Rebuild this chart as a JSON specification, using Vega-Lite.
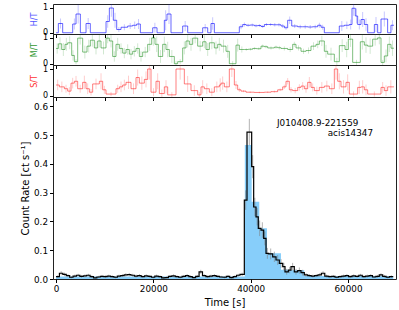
{
"$schema": "https://vega.github.io/schema/vega-lite/v6.json",
"padding": {"left": 20, "top": 3, "right": 4, "bottom": 4},
"spacing": 0,
"bounds": "flush",
"config": {
 "font": "DejaVu Sans",
 "view": {"stroke": "#222", "strokeWidth": 1},
 "axis": {"grid": false, "domain": false, "tickColor": "#000", "tickSize": 3.5, "labelColor": "#000", "titleColor": "#000", "titleFontWeight": "normal", "labelFontSize": 8.8, "titleFontSize": 10, "labelFlush": false, "labelOverlap": false}
},
"datasets": {
"ht": [
{"t0":0,"tc":240,"v":0,"e":0},{"t0":480,"tc":925,"v":0.37,"e":0.2},{"t0":1370,"tc":2400,"v":0,"e":0},{"t0":3430,"tc":3770,"v":0.35,"e":0.22},{"t0":4110,"tc":4555,"v":0.75,"e":0.38},{"t0":5000,"tc":5585,"v":0,"e":0},{"t0":6170,"tc":6610,"v":0.37,"e":0.22},{"t0":7050,"tc":8665,"v":0,"e":0},{"t0":10280,"tc":10620,"v":0.45,"e":0.25},{"t0":10960,"tc":11370,"v":0.99,"e":0.35},{"t0":11780,"tc":12125,"v":0.5,"e":0.3},{"t0":12470,"tc":12915,"v":0.13,"e":0.1},{"t0":13360,"tc":14045,"v":0.22,"e":0.12},{"t0":14730,"tc":15245,"v":0.27,"e":0.12},{"t0":15760,"tc":16170,"v":0.3,"e":0.15},{"t0":16580,"tc":16955,"v":0.35,"e":0.2},{"t0":17330,"tc":18600,"v":0,"e":0},{"t0":19870,"tc":20315,"v":0.2,"e":0.2},{"t0":20760,"tc":21510,"v":0,"e":0},{"t0":22260,"tc":22535,"v":0.5,"e":0.4},{"t0":22810,"tc":23220,"v":0.75,"e":0.4},{"t0":23630,"tc":24830,"v":0,"e":0},{"t0":26030,"tc":26545,"v":0.27,"e":0.2},{"t0":27060,"tc":28600,"v":0,"e":0},{"t0":30140,"tc":30655,"v":0.2,"e":0.15},{"t0":31170,"tc":31510,"v":0,"e":0},{"t0":31850,"tc":32195,"v":0.37,"e":0.25},{"t0":32540,"tc":35105,"v":0,"e":0},{"t0":37670,"tc":38015,"v":0.24,"e":0.1},{"t0":38360,"tc":38705,"v":0.33,"e":0.08},{"t0":39050,"tc":39475,"v":0.3,"e":0.06},{"t0":39900,"tc":40330,"v":0.31,"e":0.06},{"t0":40760,"tc":41105,"v":0.28,"e":0.06},{"t0":41450,"tc":41790,"v":0.29,"e":0.06},{"t0":42130,"tc":42475,"v":0.25,"e":0.06},{"t0":42820,"tc":43250,"v":0.33,"e":0.06},{"t0":43680,"tc":44105,"v":0.33,"e":0.06},{"t0":44530,"tc":44960,"v":0.32,"e":0.07},{"t0":45390,"tc":45815,"v":0.32,"e":0.07},{"t0":46240,"tc":46585,"v":0.27,"e":0.08},{"t0":46930,"tc":47270,"v":0.2,"e":0.08},{"t0":47610,"tc":48025,"v":0.5,"e":0.15},{"t0":48440,"tc":49055,"v":0.27,"e":0.08},{"t0":49670,"tc":50180,"v":0.24,"e":0.08},{"t0":50690,"tc":51205,"v":0.24,"e":0.08},{"t0":51720,"tc":52235,"v":0.23,"e":0.08},{"t0":52750,"tc":53265,"v":0.24,"e":0.08},{"t0":53780,"tc":54120,"v":0.3,"e":0.1},{"t0":54460,"tc":54800,"v":0.22,"e":0.1},{"t0":55140,"tc":56680,"v":0,"e":0},{"t0":58220,"tc":58735,"v":0.27,"e":0.2},{"t0":59250,"tc":59765,"v":0.3,"e":0.15},{"t0":60280,"tc":60555,"v":0.33,"e":0.2},{"t0":60830,"tc":61170,"v":0.98,"e":0.3},{"t0":61510,"tc":61750,"v":0.67,"e":0.3},{"t0":61990,"tc":62335,"v":0.33,"e":0.2},{"t0":62680,"tc":63020,"v":0.53,"e":0.3},{"t0":63360,"tc":63705,"v":0.33,"e":0.25},{"t0":64050,"tc":64735,"v":0,"e":0},{"t0":65420,"tc":65760,"v":0.33,"e":0.3},{"t0":66100,"tc":66445,"v":0,"e":0},{"t0":66790,"tc":67470,"v":0.55,"e":0.3},{"t0":68150,"tc":68490,"v":0,"e":0},{"t0":68830,"tc":69140,"v":0.3,"e":0.2},{"t0":69450,"v":0.3}
],
"mt": [
{"t0":0,"tc":240,"v":0.59,"e":0.2},{"t0":479,"tc":822,"v":0.77,"e":0.25},{"t0":1164,"tc":1507,"v":0.55,"e":0.25},{"t0":1849,"tc":2123,"v":0.75,"e":0.25},{"t0":2397,"tc":2808,"v":0.81,"e":0.25},{"t0":3219,"tc":3493,"v":0.32,"e":0.2},{"t0":3767,"tc":4110,"v":0.08,"e":0.1},{"t0":4452,"tc":4966,"v":0.99,"e":0.25},{"t0":5480,"tc":5925,"v":0.45,"e":0.25},{"t0":6370,"tc":6713,"v":0.68,"e":0.25},{"t0":7055,"tc":7466,"v":0.91,"e":0.25},{"t0":7877,"tc":8220,"v":0.61,"e":0.25},{"t0":8562,"tc":8905,"v":0.88,"e":0.25},{"t0":9247,"tc":9761,"v":0.61,"e":0.25},{"t0":10275,"tc":10618,"v":0.99,"e":0.2},{"t0":10960,"tc":11303,"v":0.88,"e":0.25},{"t0":11645,"tc":11988,"v":0.28,"e":0.2},{"t0":12330,"tc":12673,"v":0.75,"e":0.25},{"t0":13015,"tc":13358,"v":0.59,"e":0.2},{"t0":13700,"tc":14043,"v":0.41,"e":0.2},{"t0":14385,"tc":14728,"v":0.55,"e":0.2},{"t0":15070,"tc":15413,"v":0.37,"e":0.2},{"t0":15755,"tc":16098,"v":0.48,"e":0.2},{"t0":16440,"tc":16783,"v":0.59,"e":0.2},{"t0":17125,"tc":17468,"v":0.28,"e":0.2},{"t0":17810,"tc":18324,"v":0.45,"e":0.2},{"t0":18837,"tc":19248,"v":0.75,"e":0.25},{"t0":19659,"tc":20002,"v":1.0,"e":0.3},{"t0":20344,"tc":20687,"v":0.75,"e":0.3},{"t0":21029,"tc":21475,"v":0.28,"e":0.25},{"t0":21920,"tc":22263,"v":0.75,"e":0.3},{"t0":22605,"tc":22948,"v":0.55,"e":0.3},{"t0":23290,"tc":23804,"v":0.28,"e":0.25},{"t0":24317,"tc":24660,"v":0,"e":0.1},{"t0":25002,"tc":25516,"v":0.08,"e":0.1},{"t0":26030,"tc":26373,"v":0.61,"e":0.25},{"t0":26715,"tc":27058,"v":0.88,"e":0.25},{"t0":27400,"tc":27743,"v":0.75,"e":0.25},{"t0":28085,"tc":28599,"v":0.99,"e":0.2},{"t0":29112,"tc":29626,"v":0.68,"e":0.2},{"t0":30140,"tc":30483,"v":0.85,"e":0.25},{"t0":30825,"tc":31168,"v":0.55,"e":0.25},{"t0":31510,"tc":32024,"v":0.81,"e":0.25},{"t0":32537,"tc":32880,"v":0.61,"e":0.25},{"t0":33222,"tc":33565,"v":0.75,"e":0.25},{"t0":33908,"tc":34422,"v":0.68,"e":0.25},{"t0":34935,"tc":35278,"v":0.48,"e":0.25},{"t0":35620,"tc":36305,"v":0,"e":0.1},{"t0":36990,"tc":37333,"v":0.72,"e":0.25},{"t0":37675,"tc":38189,"v":0.55,"e":0.12},{"t0":38703,"tc":39102,"v":0.55,"e":0.05},{"t0":39500,"tc":39958,"v":0.56,"e":0.05},{"t0":40415,"tc":40808,"v":0.59,"e":0.05},{"t0":41200,"tc":41664,"v":0.58,"e":0.05},{"t0":42128,"tc":42464,"v":0.68,"e":0.06},{"t0":42800,"tc":43149,"v":0.66,"e":0.06},{"t0":43498,"tc":44183,"v":0.61,"e":0.06},{"t0":44868,"tc":45209,"v":0.64,"e":0.06},{"t0":45550,"tc":45894,"v":0.62,"e":0.07},{"t0":46238,"tc":46923,"v":0.59,"e":0.08},{"t0":47608,"tc":48122,"v":0.55,"e":0.1},{"t0":48635,"tc":48978,"v":0.75,"e":0.1},{"t0":49320,"tc":49834,"v":0.61,"e":0.1},{"t0":50348,"tc":50862,"v":0.48,"e":0.1},{"t0":51375,"tc":51889,"v":0.51,"e":0.12},{"t0":52403,"tc":52917,"v":0.68,"e":0.15},{"t0":53430,"tc":53773,"v":0.75,"e":0.15},{"t0":54115,"tc":54629,"v":0.88,"e":0.2},{"t0":55143,"tc":55486,"v":0.48,"e":0.25},{"t0":55828,"tc":56513,"v":0.37,"e":0.25},{"t0":57198,"tc":57712,"v":0.08,"e":0.15},{"t0":58225,"tc":58808,"v":0.7,"e":0.25},{"t0":59390,"tc":59733,"v":0.55,"e":0.3},{"t0":60075,"tc":60520,"v":0.95,"e":0.3},{"t0":60965,"tc":61753,"v":0.05,"e":0.1},{"t0":62541,"tc":62952,"v":0.85,"e":0.3},{"t0":63363,"tc":63706,"v":0.72,"e":0.3},{"t0":64048,"tc":64562,"v":0.68,"e":0.3},{"t0":65075,"tc":65589,"v":0.95,"e":0.25},{"t0":66103,"tc":66446,"v":1.0,"e":0.25},{"t0":66788,"tc":67131,"v":0.05,"e":0.1},{"t0":67473,"tc":67816,"v":0.3,"e":0.25},{"t0":68158,"tc":68501,"v":0.75,"e":0.3},{"t0":68843,"tc":69147,"v":0.6,"e":0.3},{"t0":69450,"v":0.6}
],
"st": [
{"t0":0,"tc":343,"v":0.4,"e":0.2},{"t0":685,"tc":1199,"v":0.33,"e":0.2},{"t0":1712,"tc":2055,"v":0.26,"e":0.15},{"t0":2397,"tc":2740,"v":0.17,"e":0.15},{"t0":3082,"tc":3425,"v":0.47,"e":0.2},{"t0":3767,"tc":4110,"v":0.54,"e":0.2},{"t0":4452,"tc":4966,"v":0.26,"e":0.15},{"t0":5480,"tc":5823,"v":0.5,"e":0.25},{"t0":6165,"tc":6508,"v":0.26,"e":0.2},{"t0":6850,"tc":7193,"v":0.13,"e":0.12},{"t0":7535,"tc":8220,"v":0.44,"e":0.2},{"t0":8905,"tc":9248,"v":0.54,"e":0.3},{"t0":9590,"tc":9933,"v":0.22,"e":0.15},{"t0":10275,"tc":11303,"v":0.06,"e":0.08},{"t0":12330,"tc":12673,"v":0.26,"e":0.15},{"t0":13015,"tc":13358,"v":0.33,"e":0.2},{"t0":13700,"tc":14043,"v":0.4,"e":0.2},{"t0":14385,"tc":14899,"v":0.5,"e":0.25},{"t0":15412,"tc":15926,"v":0.26,"e":0.2},{"t0":16440,"tc":16783,"v":0.68,"e":0.3},{"t0":17125,"tc":17639,"v":0.47,"e":0.25},{"t0":18152,"tc":18495,"v":0.61,"e":0.3},{"t0":18837,"tc":19180,"v":1.0,"e":0.4},{"t0":19522,"tc":20036,"v":0.13,"e":0.15},{"t0":20550,"tc":20893,"v":0.54,"e":0.3},{"t0":21235,"tc":21749,"v":0.08,"e":0.15},{"t0":22262,"tc":22605,"v":0.33,"e":0.25},{"t0":22947,"tc":23804,"v":0.03,"e":0.1},{"t0":24660,"tc":25516,"v":1.0,"e":0.4},{"t0":26372,"tc":27057,"v":0.44,"e":0.3},{"t0":27742,"tc":28427,"v":0.19,"e":0.2},{"t0":29112,"tc":29455,"v":0.03,"e":0.1},{"t0":29797,"tc":30140,"v":0.33,"e":0.25},{"t0":30482,"tc":30996,"v":0.26,"e":0.2},{"t0":31510,"tc":32024,"v":0.13,"e":0.15},{"t0":32537,"tc":33051,"v":0.33,"e":0.2},{"t0":33565,"tc":33737,"v":0.4,"e":0.25},{"t0":33908,"tc":34251,"v":0.47,"e":0.25},{"t0":34593,"tc":35107,"v":0.33,"e":0.2},{"t0":35620,"tc":36134,"v":1.0,"e":0.3},{"t0":36648,"tc":36991,"v":0.4,"e":0.15},{"t0":37333,"tc":37676,"v":0.22,"e":0.08},{"t0":38018,"tc":38532,"v":0.17,"e":0.04},{"t0":39045,"tc":39902,"v":0.13,"e":0.03},{"t0":40758,"tc":41786,"v":0.12,"e":0.03},{"t0":42813,"tc":43498,"v":0.13,"e":0.03},{"t0":44183,"tc":44868,"v":0.15,"e":0.04},{"t0":45553,"tc":46067,"v":0.22,"e":0.05},{"t0":46580,"tc":46923,"v":0.33,"e":0.08},{"t0":47265,"tc":47608,"v":0.54,"e":0.12},{"t0":47950,"tc":48293,"v":0.22,"e":0.1},{"t0":48635,"tc":49149,"v":0.19,"e":0.1},{"t0":49663,"tc":50006,"v":0.31,"e":0.12},{"t0":50348,"tc":50691,"v":0.36,"e":0.15},{"t0":51033,"tc":51376,"v":0.26,"e":0.15},{"t0":51718,"tc":52061,"v":0.5,"e":0.2},{"t0":52403,"tc":52746,"v":0.31,"e":0.15},{"t0":53088,"tc":53602,"v":0.19,"e":0.15},{"t0":54115,"tc":54629,"v":0.31,"e":0.2},{"t0":55143,"tc":55657,"v":0.36,"e":0.2},{"t0":56170,"tc":56684,"v":0.26,"e":0.2},{"t0":57198,"tc":57541,"v":1.0,"e":0.4},{"t0":57883,"tc":58226,"v":0.54,"e":0.3},{"t0":58568,"tc":59082,"v":0.33,"e":0.25},{"t0":59595,"tc":59938,"v":0.5,"e":0.3},{"t0":60280,"tc":61137,"v":0.06,"e":0.1},{"t0":61993,"tc":62336,"v":0.31,"e":0.25},{"t0":62678,"tc":63021,"v":0.33,"e":0.25},{"t0":63363,"tc":63706,"v":0.22,"e":0.2},{"t0":64048,"tc":65418,"v":0.06,"e":0.1},{"t0":66788,"tc":67131,"v":0.31,"e":0.2},{"t0":67473,"tc":67816,"v":0.19,"e":0.2},{"t0":68158,"tc":68804,"v":0.33,"e":0.25},{"t0":69450,"v":0.33}
],
"lc": [
{"t0":0,"tc":350,"v":0.008,"e":0.005},{"t0":700,"tc":1050,"v":0.02,"e":0.007},{"t0":1400,"tc":1750,"v":0.016,"e":0.006},{"t0":2100,"tc":2450,"v":0.012,"e":0.005},{"t0":2800,"tc":3150,"v":0.006,"e":0.004},{"t0":3500,"tc":3850,"v":0.01,"e":0.005},{"t0":4200,"tc":4550,"v":0.013,"e":0.005},{"t0":4900,"tc":5250,"v":0.009,"e":0.005},{"t0":5600,"tc":5950,"v":0.011,"e":0.005},{"t0":6300,"tc":6650,"v":0.013,"e":0.005},{"t0":7000,"tc":7350,"v":0.008,"e":0.005},{"t0":7700,"tc":8050,"v":0.004,"e":0.004},{"t0":8400,"tc":8750,"v":0.007,"e":0.004},{"t0":9100,"tc":9450,"v":0.009,"e":0.005},{"t0":9800,"tc":10150,"v":0.008,"e":0.005},{"t0":10500,"tc":10850,"v":0.01,"e":0.005},{"t0":11200,"tc":11550,"v":0.008,"e":0.005},{"t0":11900,"tc":12250,"v":0.006,"e":0.004},{"t0":12600,"tc":12950,"v":0.01,"e":0.005},{"t0":13300,"tc":13650,"v":0.012,"e":0.005},{"t0":14000,"tc":14350,"v":0.014,"e":0.006},{"t0":14700,"tc":15050,"v":0.015,"e":0.006},{"t0":15400,"tc":15750,"v":0.013,"e":0.005},{"t0":16100,"tc":16450,"v":0.01,"e":0.005},{"t0":16800,"tc":17150,"v":0.012,"e":0.005},{"t0":17500,"tc":17850,"v":0.008,"e":0.005},{"t0":18200,"tc":18550,"v":0.011,"e":0.005},{"t0":18900,"tc":19250,"v":0.009,"e":0.005},{"t0":19600,"tc":19950,"v":0.006,"e":0.004},{"t0":20300,"tc":20650,"v":0.01,"e":0.005},{"t0":21000,"tc":21350,"v":0.008,"e":0.005},{"t0":21700,"tc":22050,"v":0.004,"e":0.004},{"t0":22400,"tc":22750,"v":0.005,"e":0.004},{"t0":23100,"tc":23450,"v":0.009,"e":0.005},{"t0":23800,"tc":24150,"v":0.011,"e":0.005},{"t0":24500,"tc":24850,"v":0.008,"e":0.005},{"t0":25200,"tc":25550,"v":0.006,"e":0.004},{"t0":25900,"tc":26250,"v":0.009,"e":0.005},{"t0":26600,"tc":26950,"v":0.012,"e":0.005},{"t0":27300,"tc":27650,"v":0.008,"e":0.005},{"t0":28000,"tc":28350,"v":0.005,"e":0.004},{"t0":28700,"tc":29050,"v":0.009,"e":0.005},{"t0":29400,"tc":29750,"v":0.025,"e":0.007},{"t0":30100,"tc":30450,"v":0.012,"e":0.005},{"t0":30800,"tc":31150,"v":0.008,"e":0.005},{"t0":31500,"tc":31850,"v":0.01,"e":0.005},{"t0":32200,"tc":32550,"v":0.012,"e":0.005},{"t0":32900,"tc":33250,"v":0.009,"e":0.005},{"t0":33600,"tc":33950,"v":0.007,"e":0.004},{"t0":34300,"tc":34650,"v":0.006,"e":0.004},{"t0":35000,"tc":35350,"v":0.009,"e":0.005},{"t0":35700,"tc":36050,"v":0.005,"e":0.004},{"t0":36400,"tc":36750,"v":0.008,"e":0.005},{"t0":37100,"tc":37450,"v":0.013,"e":0.005},{"t0":37800,"tc":38250,"v":0.016,"e":0.006},{"t0":38700,"tc":38975,"v":0.274,"e":0.034},{"t0":39250,"tc":39730,"v":0.51,"e":0.046},{"t0":40210,"tc":40415,"v":0.39,"e":0.04},{"t0":40620,"tc":40860,"v":0.25,"e":0.032},{"t0":41100,"tc":41335,"v":0.216,"e":0.03},{"t0":41570,"tc":41850,"v":0.176,"e":0.027},{"t0":42130,"tc":42405,"v":0.17,"e":0.027},{"t0":42680,"tc":42920,"v":0.141,"e":0.024},{"t0":43160,"tc":43435,"v":0.089,"e":0.019},{"t0":43710,"tc":44120,"v":0.087,"e":0.019},{"t0":44530,"tc":44870,"v":0.077,"e":0.018},{"t0":45210,"tc":45550,"v":0.066,"e":0.017},{"t0":45890,"tc":46240,"v":0.054,"e":0.015},{"t0":46590,"tc":46825,"v":0.043,"e":0.013},{"t0":47060,"tc":47400,"v":0.025,"e":0.01},{"t0":47740,"tc":48015,"v":0.031,"e":0.011},{"t0":48290,"tc":48630,"v":0.043,"e":0.013},{"t0":48970,"tc":49320,"v":0.025,"e":0.01},{"t0":49670,"tc":50010,"v":0.029,"e":0.011},{"t0":50350,"tc":50690,"v":0.022,"e":0.01},{"t0":51030,"tc":51380,"v":0.014,"e":0.006},{"t0":51730,"tc":52080,"v":0.012,"e":0.005},{"t0":52430,"tc":52780,"v":0.01,"e":0.005},{"t0":53130,"tc":53480,"v":0.012,"e":0.005},{"t0":53830,"tc":54180,"v":0.014,"e":0.006},{"t0":54530,"tc":54880,"v":0.02,"e":0.007},{"t0":55230,"tc":55580,"v":0.01,"e":0.005},{"t0":55930,"tc":56280,"v":0.008,"e":0.005},{"t0":56630,"tc":56980,"v":0.009,"e":0.005},{"t0":57330,"tc":57680,"v":0.006,"e":0.004},{"t0":58030,"tc":58380,"v":0.008,"e":0.005},{"t0":58730,"tc":59080,"v":0.01,"e":0.005},{"t0":59430,"tc":59780,"v":0.012,"e":0.005},{"t0":60130,"tc":60480,"v":0.008,"e":0.005},{"t0":60830,"tc":61180,"v":0.011,"e":0.005},{"t0":61530,"tc":61880,"v":0.009,"e":0.005},{"t0":62230,"tc":62580,"v":0.013,"e":0.005},{"t0":62930,"tc":63280,"v":0.008,"e":0.005},{"t0":63630,"tc":63980,"v":0.01,"e":0.005},{"t0":64330,"tc":64680,"v":0.012,"e":0.005},{"t0":65030,"tc":65380,"v":0.007,"e":0.004},{"t0":65730,"tc":66080,"v":0.009,"e":0.005},{"t0":66430,"tc":66780,"v":0.014,"e":0.006},{"t0":67130,"tc":67480,"v":0.009,"e":0.005},{"t0":67830,"tc":68180,"v":0.006,"e":0.004},{"t0":68530,"tc":68915,"v":0.008,"e":0.005},{"t0":69300,"v":0.008}
],
"bb": [
{"t0":0,"v":0.009},{"t0":38800,"v":0.465},{"t0":40210,"v":0.268},{"t0":41770,"v":0.176},{"t0":43350,"v":0.089},{"t0":46230,"v":0.032},{"t0":47940,"v":0.03},{"t0":51020,"v":0.01},{"t0":69300,"v":0.01}
],
"labels": [
{"label": "J010408.9-221559", "t": 45420, "r": 0.542, "pos": "left"},
{"label": "acis14347", "t": 65140, "r": 0.506, "pos": "right"}
]
},
"vconcat": [
{
 "width": 343, "height": 30,
 "data": {"name": "ht"},
 "encoding": {"y": {"field": "v", "type": "quantitative", "title": "H/T", "scale": {"domain": [-0.05, 1.15], "nice": false, "zero": false, "clamp": true}, "axis": {"values": [0, 1], "format": "d", "title": "H/T", "titleColor": "#5555ff", "titleFontSize": 8, "labelFontSize": 8, "titlePadding": 4}}},
 "layer": [
  {"mark": {"type": "line", "interpolate": "step-after", "color": "#0000ff", "opacity": 0.6, "strokeWidth": 1},
   "encoding": {"x": {"field": "t0", "type": "quantitative", "scale": {"domain": [-620, 69870], "nice": false, "zero": false}, "axis": {"values": [0,10000,20000,30000,40000,50000,60000], "labels": false, "title": null}}}},
  {"transform": [{"filter": "isValid(datum.tc)"}],
   "mark": {"type": "errorbar", "color": "#0000ff", "opacity": 0.22},
   "encoding": {"x": {"field": "tc", "type": "quantitative", "scale": {"domain": [-620, 69870], "nice": false, "zero": false}, "axis": {"values": [0,10000,20000,30000,40000,50000,60000], "labels": false, "title": null}}, "yError": {"field": "e"}}}
 ]
},
{
 "width": 343, "height": 31,
 "data": {"name": "mt"},
 "encoding": {"y": {"field": "v", "type": "quantitative", "title": "M/T", "scale": {"domain": [-0.05, 1.15], "nice": false, "zero": false, "clamp": true}, "axis": {"values": [0, 1], "format": "d", "title": "M/T", "titleColor": "#339933", "titleFontSize": 8, "labelFontSize": 8, "titlePadding": 4}}},
 "layer": [
  {"mark": {"type": "line", "interpolate": "step-after", "color": "#008000", "opacity": 0.5, "strokeWidth": 1},
   "encoding": {"x": {"field": "t0", "type": "quantitative", "scale": {"domain": [-620, 69870], "nice": false, "zero": false}, "axis": {"values": [0,10000,20000,30000,40000,50000,60000], "labels": false, "title": null}}}},
  {"transform": [{"filter": "isValid(datum.tc)"}],
   "mark": {"type": "errorbar", "color": "#008000", "opacity": 0.18},
   "encoding": {"x": {"field": "tc", "type": "quantitative", "scale": {"domain": [-620, 69870], "nice": false, "zero": false}, "axis": {"values": [0,10000,20000,30000,40000,50000,60000], "labels": false, "title": null}}, "yError": {"field": "e"}}}
 ]
},
{
 "width": 343, "height": 32,
 "data": {"name": "st"},
 "encoding": {"y": {"field": "v", "type": "quantitative", "title": "S/T", "scale": {"domain": [-0.05, 1.15], "nice": false, "zero": false, "clamp": true}, "axis": {"values": [0, 1], "format": "d", "title": "S/T", "titleColor": "#ff3333", "titleFontSize": 8, "labelFontSize": 8, "titlePadding": 4}}},
 "layer": [
  {"mark": {"type": "line", "interpolate": "step-after", "color": "#ff0000", "opacity": 0.5, "strokeWidth": 1},
   "encoding": {"x": {"field": "t0", "type": "quantitative", "scale": {"domain": [-620, 69870], "nice": false, "zero": false}, "axis": {"values": [0,10000,20000,30000,40000,50000,60000], "labels": false, "title": null}}}},
  {"transform": [{"filter": "isValid(datum.tc)"}],
   "mark": {"type": "errorbar", "color": "#ff0000", "opacity": 0.2},
   "encoding": {"x": {"field": "tc", "type": "quantitative", "scale": {"domain": [-620, 69870], "nice": false, "zero": false}, "axis": {"values": [0,10000,20000,30000,40000,50000,60000], "labels": false, "title": null}}, "yError": {"field": "e"}}}
 ]
},
{
 "width": 343, "height": 182,
 "layer": [
  {"data": {"name": "bb"},
   "mark": {"type": "area", "interpolate": "step-after", "color": "#87cefa", "opacity": 1},
   "encoding": {
    "x": {"field": "t0", "type": "quantitative", "title": "Time [s]", "scale": {"domain": [-620, 69870], "nice": false, "zero": false}, "axis": {"values": [0,20000,40000,60000], "format": "d", "title": "Time [s]"}},
    "y": {"field": "v", "type": "quantitative", "title": "Count Rate [ct s⁻¹]", "scale": {"domain": [0, 0.632], "nice": false, "zero": false, "clamp": true}, "axis": {"values": [0,0.1,0.2,0.3,0.4,0.5,0.6], "format": ".1f", "title": "Count Rate [ct s⁻¹]", "titlePadding": 3}}}},
  {"data": {"name": "lc"},
   "transform": [{"filter": "isValid(datum.tc)"}],
   "mark": {"type": "errorbar", "color": "#808080", "opacity": 0.6},
   "encoding": {
    "x": {"field": "tc", "type": "quantitative", "title": "Time [s]", "scale": {"domain": [-620, 69870], "nice": false, "zero": false}, "axis": {"values": [0,20000,40000,60000], "format": "d", "title": "Time [s]"}},
    "y": {"field": "v", "type": "quantitative", "title": "Count Rate [ct s⁻¹]", "scale": {"domain": [0, 0.632], "nice": false, "zero": false, "clamp": true}, "axis": {"values": [0,0.1,0.2,0.3,0.4,0.5,0.6], "format": ".1f", "title": "Count Rate [ct s⁻¹]", "titlePadding": 3}},
    "yError": {"field": "e"}}},
  {"data": {"name": "lc"},
   "mark": {"type": "line", "interpolate": "step-after", "color": "#000000", "strokeWidth": 1.2},
   "encoding": {
    "x": {"field": "t0", "type": "quantitative", "title": "Time [s]", "scale": {"domain": [-620, 69870], "nice": false, "zero": false}, "axis": {"values": [0,20000,40000,60000], "format": "d", "title": "Time [s]"}},
    "y": {"field": "v", "type": "quantitative", "title": "Count Rate [ct s⁻¹]", "scale": {"domain": [0, 0.632], "nice": false, "zero": false, "clamp": true}, "axis": {"values": [0,0.1,0.2,0.3,0.4,0.5,0.6], "format": ".1f", "title": "Count Rate [ct s⁻¹]", "titlePadding": 3}}}},
  {"data": {"name": "labels"},
   "transform": [{"filter": "datum.pos == 'left'"}],
   "mark": {"type": "text", "align": "left", "baseline": "middle", "fontSize": 8.8, "color": "#000"},
   "encoding": {
    "x": {"field": "t", "type": "quantitative", "title": "Time [s]", "scale": {"domain": [-620, 69870], "nice": false, "zero": false}, "axis": {"values": [0,20000,40000,60000], "format": "d", "title": "Time [s]"}},
    "y": {"field": "r", "type": "quantitative", "title": "Count Rate [ct s⁻¹]", "scale": {"domain": [0, 0.632], "nice": false, "zero": false, "clamp": true}, "axis": {"values": [0,0.1,0.2,0.3,0.4,0.5,0.6], "format": ".1f", "title": "Count Rate [ct s⁻¹]", "titlePadding": 3}},
    "text": {"field": "label"}}},
  {"data": {"name": "labels"},
   "transform": [{"filter": "datum.pos == 'right'"}],
   "mark": {"type": "text", "align": "right", "baseline": "middle", "fontSize": 8.8, "color": "#000"},
   "encoding": {
    "x": {"field": "t", "type": "quantitative", "title": "Time [s]", "scale": {"domain": [-620, 69870], "nice": false, "zero": false}, "axis": {"values": [0,20000,40000,60000], "format": "d", "title": "Time [s]"}},
    "y": {"field": "r", "type": "quantitative", "title": "Count Rate [ct s⁻¹]", "scale": {"domain": [0, 0.632], "nice": false, "zero": false, "clamp": true}, "axis": {"values": [0,0.1,0.2,0.3,0.4,0.5,0.6], "format": ".1f", "title": "Count Rate [ct s⁻¹]", "titlePadding": 3}},
    "text": {"field": "label"}}}
 ]
}
]
}
